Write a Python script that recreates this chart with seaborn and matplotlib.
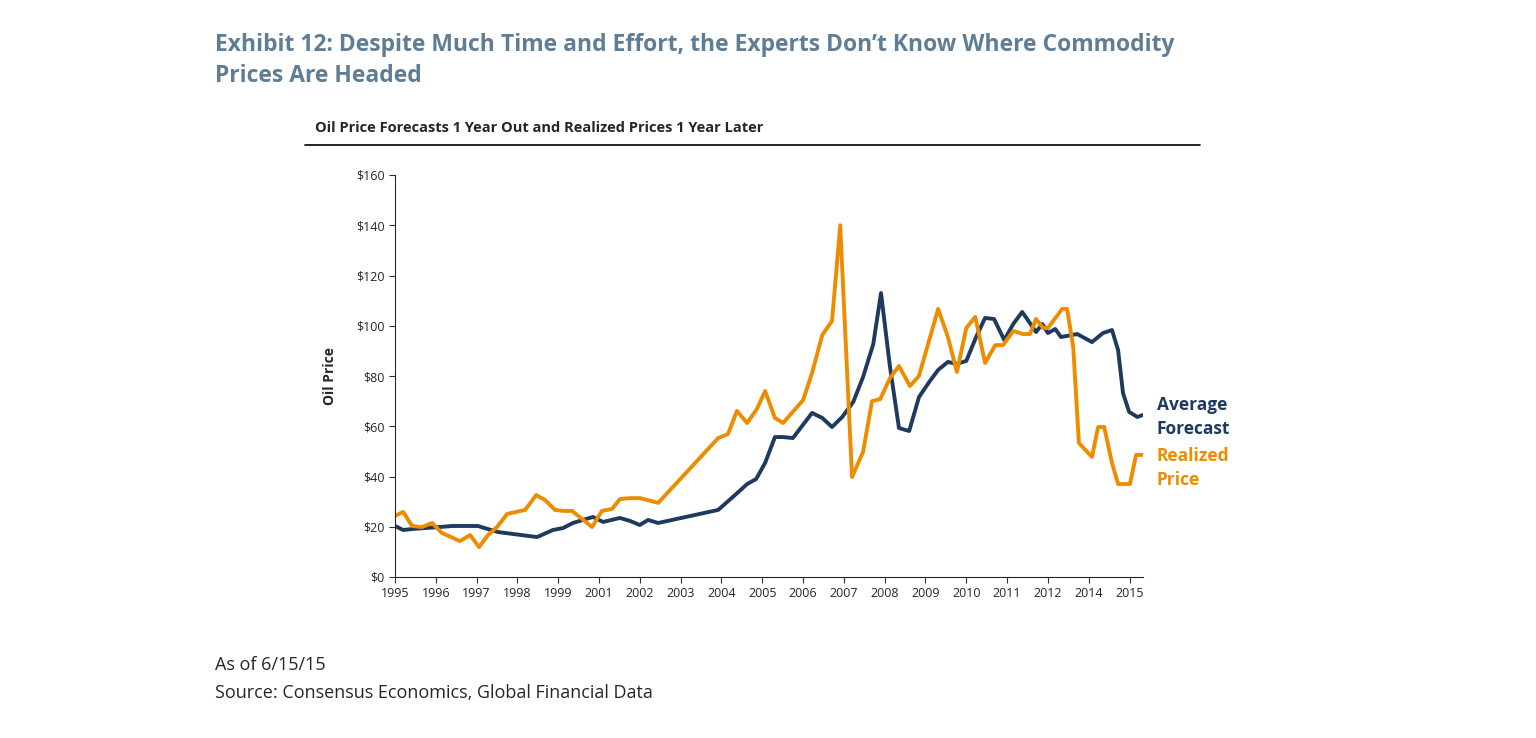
import numpy as np
import pandas as pd
import seaborn as sns
import matplotlib.pyplot as plt
from matplotlib.lines import Line2D

# x is position on the axis in tick units (0 = 1995 label, 18 = 2015 label)
tick_labels = ['1995', '1996', '1997', '1998', '1999', '2001', '2002', '2003', '2004', '2005',
               '2006', '2007', '2008', '2009', '2010', '2011', '2012', '2014', '2015']

realized_x = [0.0, 0.20, 0.42, 0.66, 0.91, 1.15, 1.59, 1.84, 2.06, 2.28, 2.50, 2.75, 3.19, 3.46, 3.68,
              3.92, 4.12, 4.34, 4.83, 5.07, 5.32, 5.51, 5.76, 6.00, 6.45, 7.92, 8.16, 8.38, 8.63, 8.87,
              9.07, 9.31, 9.51, 10.00, 10.22, 10.47, 10.71, 10.91, 11.20, 11.47, 11.69, 11.89, 12.13,
              12.35, 12.62, 12.84, 13.31, 13.55, 13.77, 14.00, 14.22, 14.46, 14.71, 14.90, 15.15, 15.39,
              15.56, 15.71, 15.88, 16.00, 16.35, 16.47, 16.62, 16.76, 17.08, 17.23, 17.38, 17.57, 17.72,
              18.01, 18.16, 18.33]
realized_price = [24.3, 25.9, 20.3, 19.9, 21.5, 17.5, 14.3, 16.7, 11.9, 16.7, 19.9, 25.1, 26.7, 32.6, 30.6,
                  26.7, 26.3, 26.3, 19.9, 26.3, 27.1, 31.0, 31.4, 31.4, 29.5, 55.3, 56.9, 66.1, 61.3, 66.9,
                  74.0, 63.3, 61.3, 70.4, 81.2, 96.3, 101.9, 140.0, 39.8, 49.8, 70.0, 70.8, 79.2,
                  84.0, 76.0, 80.0, 106.7, 95.5, 81.6, 99.1, 103.5, 85.2, 92.3, 92.3, 97.9, 96.7,
                  96.7, 102.7, 99.1, 99.1, 106.7, 106.7, 91.5, 53.3, 47.8, 59.7, 59.7, 45.4, 37.0,
                  37.0, 48.6, 48.6]

forecast_x = [0.0, 0.20, 0.42, 1.10, 1.40, 2.03, 2.52, 3.48, 3.87, 4.12, 4.36, 4.85, 5.10, 5.51, 5.76,
              6.00, 6.20, 6.45, 7.92, 8.33, 8.63, 8.85, 9.07, 9.31, 9.51, 9.75, 10.22, 10.47, 10.71,
              10.96, 11.23, 11.47, 11.72, 11.91, 12.13, 12.35, 12.60, 12.84, 13.09, 13.31, 13.55, 13.77,
              14.00, 14.24, 14.46, 14.68, 14.93, 15.15, 15.37, 15.71, 15.86, 16.00, 16.18, 16.32, 16.72,
              17.08, 17.35, 17.57, 17.72, 17.84, 17.99, 18.19, 18.33]
forecast_price = [20.3, 18.7, 19.1, 19.9, 20.3, 20.3, 17.9, 15.9, 18.7, 19.5, 21.5, 23.9, 21.9, 23.5, 22.3,
                  20.7, 22.7, 21.5, 26.7, 32.6, 37.0, 39.0, 45.4, 55.7, 55.7, 55.3, 65.3, 63.3, 59.7,
                  63.7, 69.7, 79.6, 92.7, 113.0, 83.6, 59.3, 58.1, 71.6, 77.6, 82.4, 85.6, 84.8,
                  86.0, 95.5, 103.1, 102.7, 94.3, 100.7, 105.5, 97.5, 100.7, 97.1, 98.7, 95.5, 96.7,
                  93.5, 97.1, 98.3, 90.3, 73.2, 65.7, 63.7, 64.5]

NAVY = '#1F3A5F'
ORANGE = '#EE8C00'
TITLE = '#5F7D95'

sns.set_style('ticks')
plt.rcParams['font.family'] = ['Open Sans', 'DejaVu Sans']

fc = pd.DataFrame({'x': forecast_x, 'price': forecast_price})
rl = pd.DataFrame({'x': realized_x, 'price': realized_price})

fig = plt.figure(figsize=(15.36, 7.38), dpi=100)
ax = fig.add_axes([395 / 1536, 1 - 577 / 738, (1143 - 395) / 1536, (577 - 175) / 738])
sns.lineplot(data=fc, x='x', y='price', ax=ax, color=NAVY, linewidth=2.8)
sns.lineplot(data=rl, x='x', y='price', ax=ax, color=ORANGE, linewidth=2.8)

ax.set_xlim(0, 18.33)
ax.set_ylim(0, 160)
ax.set_xticks(range(len(tick_labels)))
ax.set_xticklabels(tick_labels, fontsize=9)
ax.set_yticks(range(0, 161, 20))
ax.set_yticklabels(['$%d' % v for v in range(0, 161, 20)], fontsize=9)
ax.set_xlabel('')
ax.set_ylabel('Oil Price', fontsize=10, fontweight='bold', labelpad=14)
ax.tick_params(length=4, color='#333333')
sns.despine(ax=ax)

fig.text(215 / 1536, 1 - 45 / 738, 'Exhibit 12: Despite Much Time and Effort, the Experts Don\u2019t Know Where Commodity',
         fontsize=16.5, fontweight='bold', color=TITLE, va='center')
fig.text(215 / 1536, 1 - 76 / 738, 'Prices Are Headed', fontsize=16.5, fontweight='bold', color=TITLE, va='center')
fig.text(315 / 1536, 1 - 128 / 738, 'Oil Price Forecasts 1 Year Out and Realized Prices 1 Year Later',
         fontsize=10.5, fontweight='bold', va='center')
fig.add_artist(Line2D([305 / 1536, 1200 / 1536], [1 - 145 / 738] * 2, color='black', linewidth=1.2))

fig.text(1157 / 1536, 1 - 417 / 738, 'Average\nForecast', fontsize=12.5, fontweight='bold', color=NAVY,
         va='center', linespacing=1.45)
fig.text(1157 / 1536, 1 - 468 / 738, 'Realized\nPrice', fontsize=12.5, fontweight='bold', color=ORANGE,
         va='center', linespacing=1.45)

fig.text(215 / 1536, 1 - 665 / 738, 'As of 6/15/15', fontsize=13, va='center')
fig.text(215 / 1536, 1 - 693 / 738, 'Source: Consensus Economics, Global Financial Data', fontsize=13, va='center')

fig.savefig('out.png', dpi=100)
